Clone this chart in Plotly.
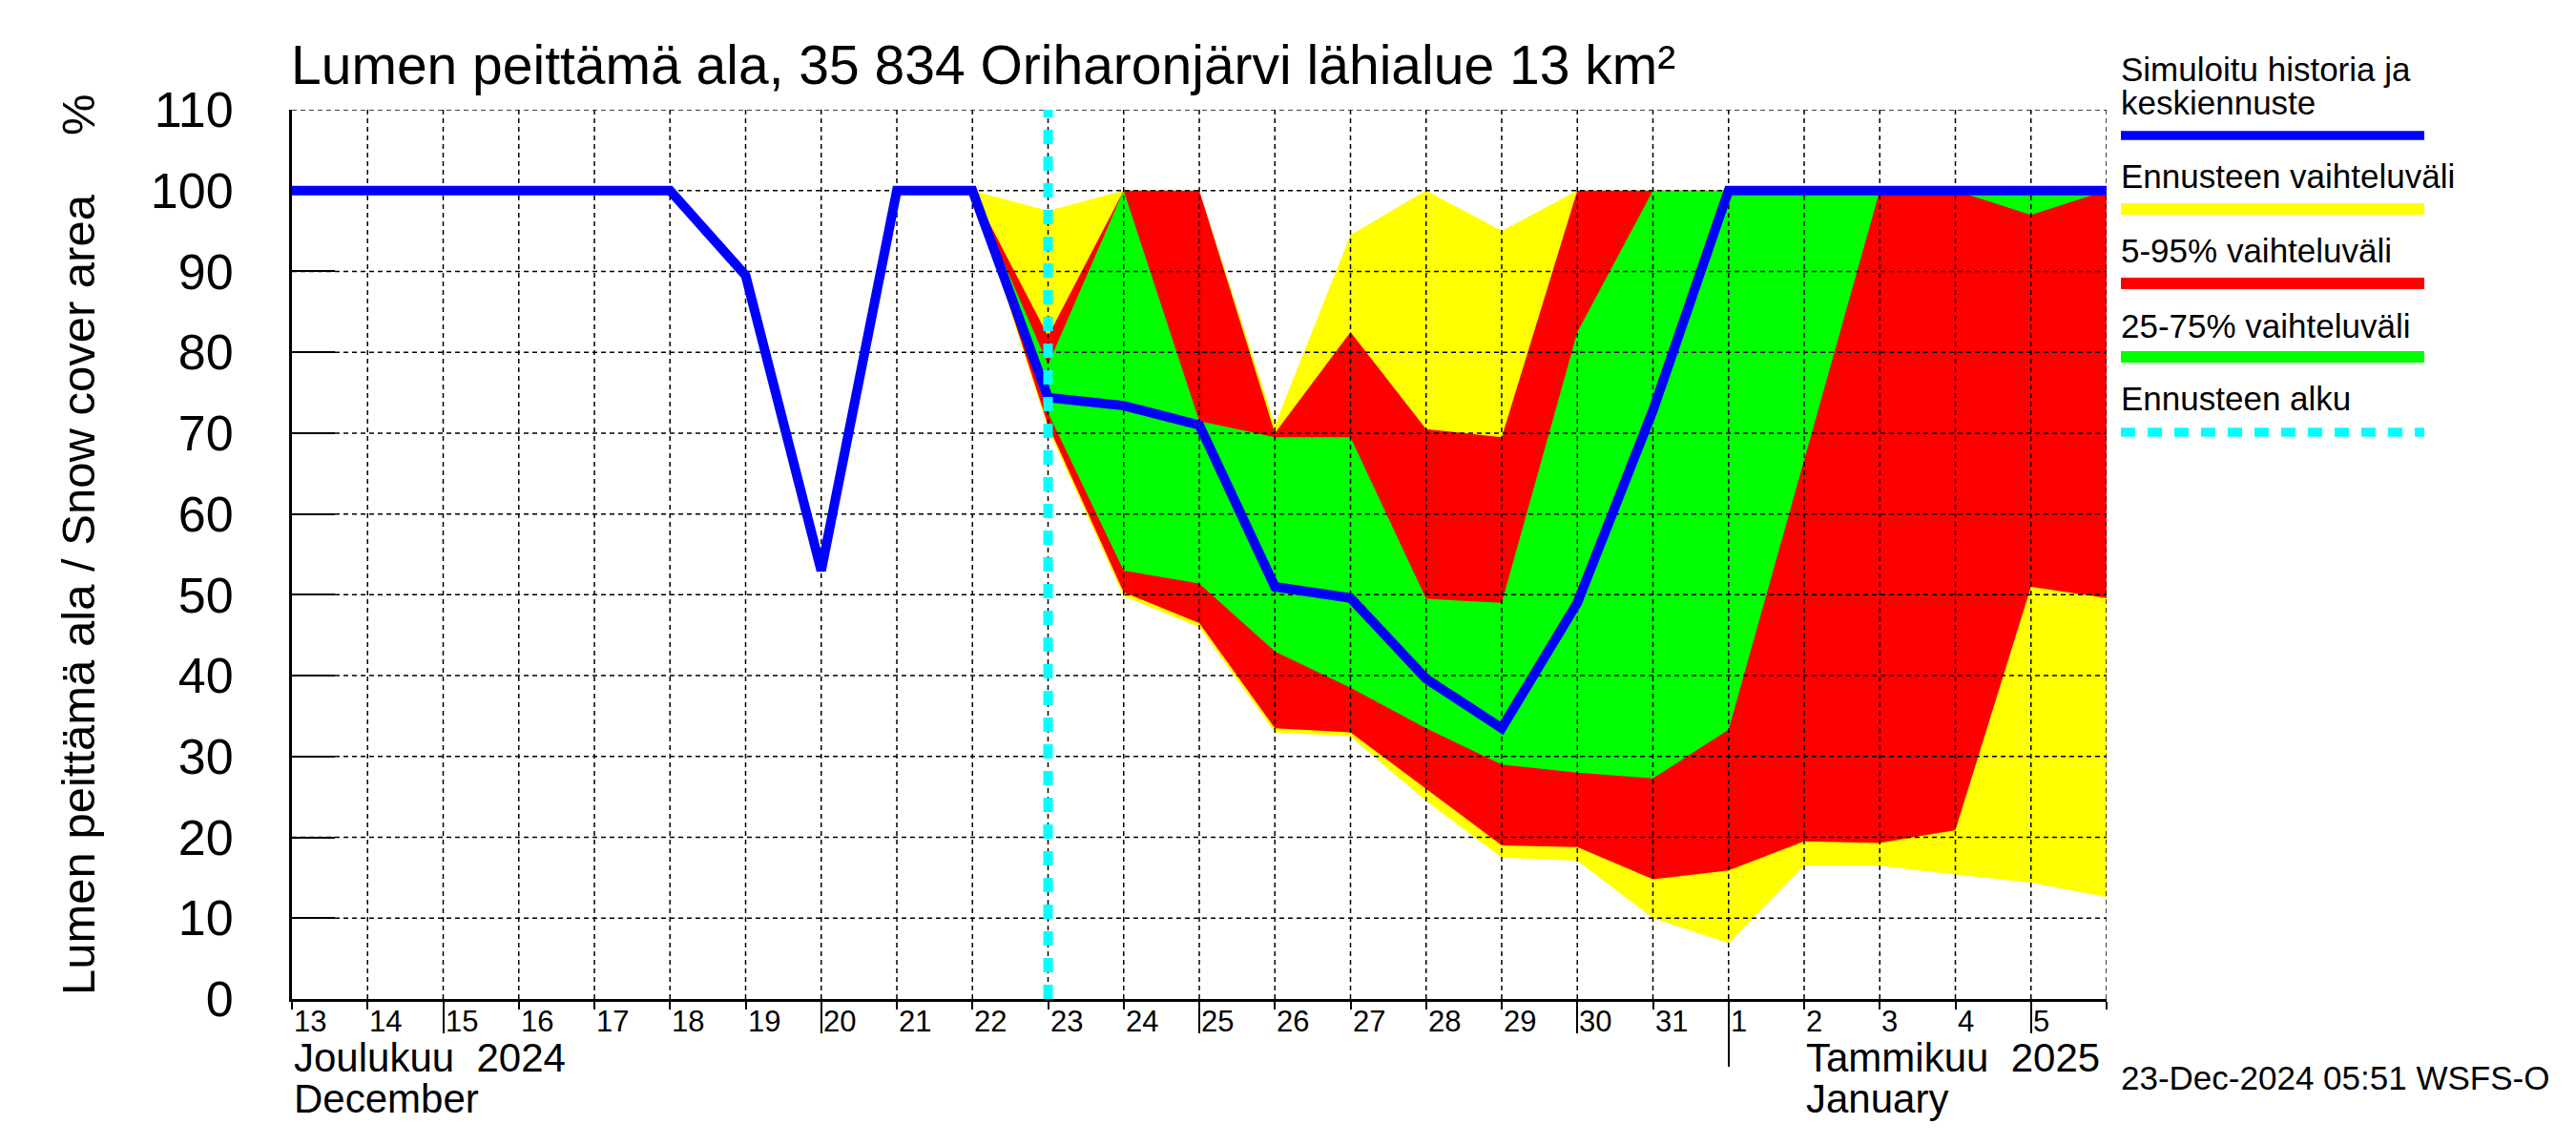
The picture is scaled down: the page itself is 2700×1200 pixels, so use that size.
import plotly.graph_objects as go

# ---------------- canvas / layout geometry (pixels) ----------------
W, H = 2700, 1200
ML, MR, MT, MB = 306, 492, 115, 153
PW = W - ML - MR
PH = H - MT - MB


def pxx(x):
    return (x - ML) / PW


def pxy(y):
    return (H - MB - y) / PH


FONT = "Liberation Sans, Arial, Helvetica, sans-serif"

# ---------------- data ----------------
x_start = "2024-12-13"
x_end = "2025-01-06"
Y_MIN, Y_MAX = 0, 110

hist_dates = [
    "2024-12-13", "2024-12-14", "2024-12-15", "2024-12-16", "2024-12-17",
    "2024-12-18", "2024-12-19", "2024-12-20", "2024-12-21", "2024-12-22",
    "2024-12-23", "2024-12-24", "2024-12-25", "2024-12-26", "2024-12-27",
    "2024-12-28", "2024-12-29", "2024-12-30", "2024-12-31", "2025-01-01",
    "2025-01-02", "2025-01-03", "2025-01-04", "2025-01-05", "2025-01-06",
]
median_snow = [
    100, 100, 100, 100, 100,
    100, 89.5, 53, 100, 100,
    74.4, 73.4, 71, 51, 49.6,
    39.6, 33.5, 49, 72.8, 100,
    100, 100, 100, 100, 100,
]

fc_dates = [
    "2024-12-22", "2024-12-23", "2024-12-24", "2024-12-25", "2024-12-26",
    "2024-12-27", "2024-12-28", "2024-12-29", "2024-12-30", "2024-12-31",
    "2025-01-01", "2025-01-02", "2025-01-03", "2025-01-04", "2025-01-05",
    "2025-01-06",
]
fc_max = [100, 97.5, 100, 100, 71, 94.5, 100, 95, 100, 100, 100, 100, 100, 100, 100, 100]
fc_p95 = [100, 82, 100, 100, 70, 82.5, 70.5, 69.5, 100, 100, 100, 100, 100, 100, 100, 100]
fc_p75 = [100, 78.5, 100, 71.5, 69.5, 69.5, 49.5, 49, 82.5, 100, 100, 100, 100, 100, 100, 100]
fc_p25 = [100, 72.5, 53, 51.4, 43, 38.5, 33.5, 29, 28, 27.3, 33.3, 66.7, 100, 100, 97, 100]
fc_p05 = [100, 71, 50.3, 46.5, 33.5, 33, 26, 19, 18.8, 14.8, 15.9, 19.5, 19.3, 20.9, 51, 49.6]
fc_min = [100, 70.5, 49.8, 46, 33, 32.5, 24.5, 17.5, 17.1, 10, 6.9, 16.5, 16.5, 15.4, 14.4, 12.6]

forecast_start = "2024-12-23"

y_ticks = [0, 10, 20, 30, 40, 50, 60, 70, 80, 90, 100, 110]
day_label_dates = hist_dates[:-1]
day_labels = ["13", "14", "15", "16", "17", "18", "19", "20", "21", "22", "23", "24",
              "25", "26", "27", "28", "29", "30", "31", "1", "2", "3", "4", "5"]
five_day_ticks = ["2024-12-15", "2024-12-20", "2024-12-25", "2024-12-30", "2025-01-05"]
month_ticks = ["2025-01-01"]
month_label_dates = ["2024-12-13", "2025-01-02"]
month_labels_fi = ["Joulukuu\u00a0 2024", "Tammikuu\u00a0 2025"]
month_labels_en = ["December", "January"]

title_text = "Lumen peittämä ala, 35 834 Oriharonjärvi lähialue 13 km²"
ytitle_text = "Lumen peittämä ala / Snow cover area"
stamp_text = "23-Dec-2024 05:51 WSFS-O"

YELLOW, RED, GREEN, BLUE, CYAN = "#FFFF00", "#FF0000", "#00FF00", "#0000FF", "#00FFFF"

legend_items = [
    ("Ennusteen vaihteluväli", YELLOW),
    ("5-95% vaihteluväli", RED),
    ("25-75% vaihteluväli", GREEN),
]

fig = go.Figure()


def band(lower, upper, color):
    fig.add_trace(go.Scatter(x=fc_dates, y=lower, mode="lines", line=dict(width=0, color=color),
                             showlegend=False, hoverinfo="skip"))
    fig.add_trace(go.Scatter(x=fc_dates, y=upper, mode="lines", line=dict(width=0, color=color),
                             fill="tonexty", fillcolor=color, showlegend=False, hoverinfo="skip"))


band(fc_min, fc_max, YELLOW)
band(fc_p05, fc_p95, RED)
band(fc_p25, fc_p75, GREEN)

# grid lines drawn above the fills but below the lines
gx, gy = [], []
for d in hist_dates[1:]:
    gx += [d, d, None]
    gy += [Y_MIN, Y_MAX, None]
for v in y_ticks[1:]:
    gx += [x_start, x_end, None]
    gy += [v, v, None]
fig.add_trace(go.Scatter(x=gx, y=gy, mode="lines",
                         line=dict(color="black", width=1.5, dash="5px,4px"),
                         showlegend=False, hoverinfo="skip"))

fig.add_trace(go.Scatter(x=hist_dates, y=median_snow, mode="lines",
                         line=dict(color=BLUE, width=10), showlegend=False))

fig.add_trace(go.Scatter(x=[forecast_start, forecast_start], y=[Y_MIN, Y_MAX], mode="lines",
                         line=dict(color=CYAN, width=10, dash="15px,13px"),
                         showlegend=False, hoverinfo="skip"))

# dummy traces so the overlay tick axes are drawn
for ax in ["x2", "x3"]:
    fig.add_trace(go.Scatter(x=[x_start, x_end], y=[None, None], xaxis=ax, yaxis="y",
                             mode="lines", showlegend=False, hoverinfo="skip"))

annotations = []
for d, lab in zip(day_label_dates, day_labels):
    annotations.append(dict(x=d, xref="x", y=pxy(1070), yref="paper", text=lab,
                            xanchor="left", yanchor="middle", showarrow=False,
                            font=dict(family=FONT, size=31, color="black")))
for d, fi, en in zip(month_label_dates, month_labels_fi, month_labels_en):
    annotations.append(dict(x=d, xref="x", y=pxy(1108), yref="paper", text=fi,
                            xanchor="left", yanchor="middle", showarrow=False,
                            font=dict(family=FONT, size=42, color="black")))
    annotations.append(dict(x=d, xref="x", y=pxy(1151), yref="paper", text=en,
                            xanchor="left", yanchor="middle", showarrow=False,
                            font=dict(family=FONT, size=42, color="black")))

annotations.append(dict(x=pxx(303), xref="paper", y=pxy(68), yref="paper", text=title_text,
                        xanchor="left", yanchor="middle", showarrow=False,
                        font=dict(family=FONT, size=57, color="black")))
annotations.append(dict(x=pxx(82), xref="paper", y=pxy(623), yref="paper", text=ytitle_text,
                        textangle=-90, xanchor="center", yanchor="middle", showarrow=False,
                        font=dict(family=FONT, size=49, color="black")))
annotations.append(dict(x=pxx(82), xref="paper", y=pxy(120), yref="paper", text="%",
                        textangle=-90, xanchor="center", yanchor="middle", showarrow=False,
                        font=dict(family=FONT, size=49, color="black")))
annotations.append(dict(x=pxx(2221), xref="paper", y=pxy(1129), yref="paper", text=stamp_text,
                        xanchor="left", yanchor="middle", showarrow=False,
                        font=dict(family=FONT, size=35, color="black")))

# legend (manual)
LEG_X0, LEG_X1 = 2223, 2541
leg_font = dict(family=FONT, size=35, color="black")
annotations.append(dict(x=pxx(LEG_X0 - 2), xref="paper", y=pxy(72), yref="paper",
                        text="Simuloitu historia ja", xanchor="left", yanchor="middle",
                        showarrow=False, font=leg_font))
annotations.append(dict(x=pxx(LEG_X0 - 2), xref="paper", y=pxy(107), yref="paper",
                        text="keskiennuste", xanchor="left", yanchor="middle",
                        showarrow=False, font=leg_font))
shapes = [dict(type="line", xref="paper", yref="paper", x0=pxx(LEG_X0), x1=pxx(LEG_X1),
               y0=pxy(142), y1=pxy(142), line=dict(color=BLUE, width=9.5))]
leg_text_y = [185, 262, 341]
leg_line_y = [219, 297, 374]
for (txt, col), ty, ly in zip(legend_items, leg_text_y, leg_line_y):
    annotations.append(dict(x=pxx(LEG_X0 - 2), xref="paper", y=pxy(ty), yref="paper",
                            text=txt, xanchor="left", yanchor="middle",
                            showarrow=False, font=leg_font))
    shapes.append(dict(type="line", xref="paper", yref="paper", x0=pxx(LEG_X0), x1=pxx(LEG_X1),
                       y0=pxy(ly), y1=pxy(ly), line=dict(color=col, width=12)))
annotations.append(dict(x=pxx(LEG_X0 - 2), xref="paper", y=pxy(417), yref="paper",
                        text="Ennusteen alku", xanchor="left", yanchor="middle",
                        showarrow=False, font=leg_font))
shapes.append(dict(type="line", xref="paper", yref="paper", x0=pxx(LEG_X0), x1=pxx(LEG_X1),
                   y0=pxy(453), y1=pxy(453), line=dict(color=CYAN, width=9.5, dash="15px,13px")))

tick_axis_common = dict(type="date", range=[x_start, x_end], overlaying="x", anchor="y",
                        side="bottom", tickmode="array", ticks="outside", tickwidth=2,
                        tickcolor="black", showticklabels=False, showgrid=False,
                        showline=False, zeroline=False, layer="above traces")

fig.update_layout(
    width=W, height=H, autosize=False,
    margin=dict(l=ML, r=MR, t=MT, b=MB, pad=0),
    paper_bgcolor="white", plot_bgcolor="white",
    showlegend=False,
    font=dict(family=FONT, color="black"),
    xaxis=dict(type="date", range=[x_start, x_end], tickmode="array", tickvals=hist_dates,
               ticks="outside", ticklen=8, tickwidth=2, tickcolor="black",
               showticklabels=False, showgrid=False, zeroline=False,
               showline=True, linewidth=3, linecolor="black", layer="above traces"),
    xaxis2=dict(tickvals=five_day_ticks, ticklen=35, **tick_axis_common),
    xaxis3=dict(tickvals=month_ticks, ticklen=70, **tick_axis_common),
    yaxis=dict(range=[Y_MIN, Y_MAX], tickmode="array", tickvals=y_ticks,
               ticktext=[str(v) for v in y_ticks],
               ticks="inside", ticklen=45, tickwidth=2, tickcolor="black",
               tickfont=dict(family=FONT, size=52, color="black"),
               ticklabelstandoff=48,
               showgrid=False, zeroline=False, showline=True, linewidth=3,
               linecolor="black", layer="below traces"),
    annotations=annotations,
    shapes=shapes,
)

fig.write_html("out.html", config={"displayModeBar": False},
               post_script="document.body.style.margin='0px';document.body.style.padding='0px';")
